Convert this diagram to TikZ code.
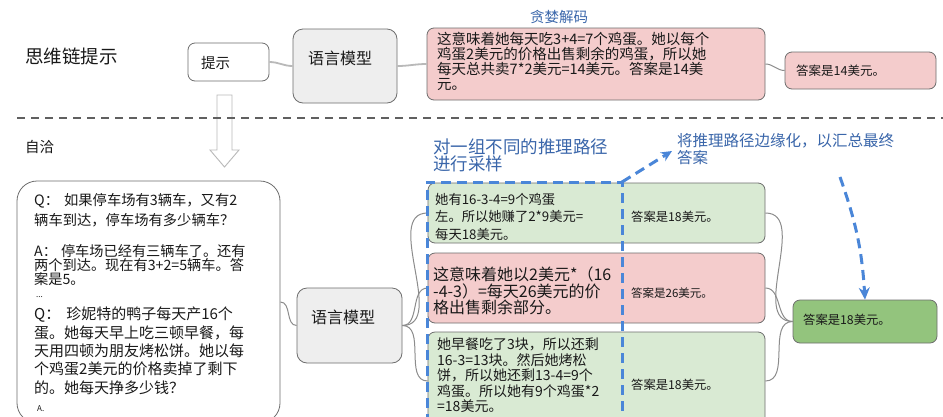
\documentclass[tikz,border=0pt]{standalone}
\usepackage{fontspec}
\setmainfont{Noto Sans CJK SC}
\usetikzlibrary{arrows.meta}
\definecolor{redfill}{HTML}{F4CCCC}
\definecolor{greenfill}{HTML}{D9EAD3}
\definecolor{darkgreen}{HTML}{93C47D}
\definecolor{grayfill}{HTML}{EEEEEE}
\definecolor{boxline}{HTML}{6E6E6E}
\definecolor{conncol}{HTML}{8C8C8C}
\definecolor{bluetext}{HTML}{3A66AA}
\definecolor{bluedash}{HTML}{4A86D8}
\begin{document}
\begin{tikzpicture}[x=1pt,y=-1pt,
 box/.style={draw=boxline, line width=0.8pt, rounded corners=7pt, inner sep=0pt},
 txt/.style={inner sep=0pt, align=left, text=black!90},
 conn/.style={draw=conncol, line width=1pt},
 topconn/.style={draw=gray!55, line width=1.8pt},
 bluedsh/.style={draw=bluedash, line width=3pt, dash pattern=on 10pt off 6pt},
]
\useasboundingbox (0,0) rectangle (943,416);
\fill[white] (0,0) rectangle (943,416);

% ---------- top row ----------
\node[txt, anchor=west, font=\fontsize{18.5}{20}\selectfont] (cot) at (25,56) {思维链提示};
\node[box, fill=white, minimum width=81pt, minimum height=38pt] (prompt) at (228.5,62) {};
\node[txt, anchor=west, font=\fontsize{14.5}{16}\selectfont] (promptt) at (201,63) {提示};
\node[box, fill=grayfill, rounded corners=10pt, minimum width=104pt, minimum height=74pt] (lm1) at (345,66) {};
\node[txt, font=\fontsize{16}{18}\selectfont] (lm1t) at (340,58) {语言模型};
\node[txt, text=bluetext, font=\fontsize{14.5}{16}\selectfont] (greedy) at (559,17) {贪婪解码};
\node[box, fill=redfill, minimum width=338pt, minimum height=72pt] (red1) at (596,64) {};
\node[txt, anchor=north west, font=\fontsize{14.5}{15}\selectfont] (red1t) at (437,32)
 {这意味着她每天吃3+4=7个鸡蛋。她以每个\\鸡蛋2美元的价格出售剩余的鸡蛋，所以她\\每天总共卖7*2美元=14美元。答案是14美\\元。};
\node[box, fill=redfill, minimum width=151pt, minimum height=37pt] (ans1) at (860.5,70.5) {};
\node[txt, anchor=west, font=\fontsize{12.5}{14}\selectfont] (ans1t) at (796,71) {答案是14美元。};
\draw[topconn] (prompt.east) to[out=0,in=180] (lm1.west);
\draw[topconn] (lm1.east) to[out=0,in=180] (red1.west);
\draw[conn] (red1.east) to[out=0,in=180] (ans1.west);

% ---------- hollow arrow and separator ----------
\draw[gray!55, line width=0.9pt, fill=white] (217,95) -- (232,95) -- (232,150) -- (239,150)
  -- (224.5,167) -- (210,150) -- (217,150) -- cycle;
\coordinate (sepL) at (17,118);
\coordinate (sepR) at (943,118);
\draw[gray!75!black, line width=2pt, dash pattern=on 8pt off 6pt] (sepL) -- (sepR);

% ---------- bottom part ----------
\node[txt, anchor=west, font=\fontsize{14.5}{16}\selectfont] (sc) at (25,147) {自洽};

\node[box, fill=white, rounded corners=20pt, minimum width=263pt, minimum height=242pt] (ctx) at (148.5,302) {};
\node[txt, anchor=north west, font=\fontsize{14.3}{20}\selectfont] (q1) at (34,193)
 {Q：\hspace{5pt}如果停车场有3辆车，又有2\\辆车到达，停车场有多少辆车？};
\node[txt, anchor=north west, font=\fontsize{14.2}{14.3}\selectfont] (a1) at (34,244)
 {A：\hspace{4pt}停车场已经有三辆车了。还有\\两个到达。现在有3+2=5辆车。答\\案是5。};
\node[txt, anchor=north west, font=\fontsize{8}{9}\selectfont] (dots) at (36,296) {...};
\node[txt, anchor=north west, font=\fontsize{15}{18.3}\selectfont] (q2) at (34,307)
 {Q：\hspace{6pt}珍妮特的鸭子每天产16个\\蛋。她每天早上吃三顿早餐，每\\天用四顿为朋友烤松饼。她以每\\个鸡蛋2美元的价格卖掉了剩下\\的。她每天挣多少钱？};
\node[txt, anchor=west, font=\fontsize{8}{9}\selectfont] (a2) at (37,409) {A.};

\node[box, fill=grayfill, rounded corners=10pt, minimum width=105pt, minimum height=75pt] (lm2) at (349.5,325.5) {};
\node[txt, font=\fontsize{16}{18}\selectfont] (lm2t) at (343,317) {语言模型};
\draw[conn] (ctx.east) to[out=0,in=180] (lm2.west);

\node[txt, anchor=north west, text=bluetext, font=\fontsize{17.5}{17}\selectfont] (samp) at (433,139)
 {对一组不同的推理路径\\进行采样};
\node[txt, anchor=north west, text=bluetext, font=\fontsize{15.5}{17}\selectfont] (marg) at (677,133)
 {将推理路径边缘化，以汇总最终\\答案};

% path boxes
\node[box, fill=greenfill, minimum width=337pt, minimum height=60pt] (g1) at (596.5,213) {};
\node[txt, anchor=north west, font=\fontsize{13.3}{17.5}\selectfont] (g1t) at (435,193)
 {她有16-3-4=9个鸡蛋\\左。所以她赚了2*9美元=\\每天18美元。};
\node[txt, anchor=west, font=\fontsize{12.3}{14}\selectfont] (g1a) at (631,217) {答案是18美元。};

\node[box, fill=redfill, minimum width=337pt, minimum height=70pt] (r2) at (596.5,288) {};
\node[txt, anchor=north west, font=\fontsize{16}{16.5}\selectfont] (r2t) at (433,267)
 {这意味着她以2美元*（16\\-4-3）=每天26美元的价\\格出售剩余部分。};
\node[txt, anchor=west, font=\fontsize{11.5}{14}\selectfont] (r2a) at (631,293) {答案是26美元。};

\node[box, fill=greenfill, minimum width=337pt, minimum height=98pt] (g3) at (596.5,381) {};
\node[txt, anchor=north west, font=\fontsize{14}{15.5}\selectfont] (g3t) at (437,338)
 {她早餐吃了3块，所以还剩\\16-3=13块。然后她烤松\\饼，所以她还剩13-4=9个\\鸡蛋。所以她有9个鸡蛋*2\\=18美元。};
\node[txt, anchor=west, font=\fontsize{12.3}{14}\selectfont] (g3a) at (631,385) {答案是18美元。};

\node[box, fill=darkgreen, minimum width=144pt, minimum height=43pt] (final) at (865,321.5) {};
\node[txt, anchor=west, font=\fontsize{12.3}{14}\selectfont] (finalt) at (803,320) {答案是18美元。};

\draw[conn] (lm2.east) to[out=0,in=180] (g1.west);
\draw[conn] (lm2.east) to[out=0,in=180] (r2.west);
\draw[conn] (lm2.east) to[out=0,in=180] (g3.west);
\draw[conn] (g1.east) to[out=0,in=180] (final.west);
\draw[conn] (r2.east) to[out=0,in=180] (final.west);
\draw[conn] (g3.east) to[out=0,in=180] (final.west);

% blue dashed sampling frame and arrows
\coordinate (fbl) at (427,440);
\coordinate (ftl) at (427,182);
\coordinate (ftr) at (622,182);
\coordinate (fbr) at (622,440);
\coordinate (tip1) at (672,151);
\coordinate (start2) at (840,177);
\draw[bluedsh] (fbl) -- (ftl) -- (ftr) -- (fbr);
\draw[bluedsh, -{Stealth[length=11pt,width=10pt]}] (ftr) -- (tip1);
\draw[bluedsh, -{Stealth[length=12pt,width=11pt]}] (start2) to[bend left=8] (final.north);
\end{tikzpicture}
\end{document}
